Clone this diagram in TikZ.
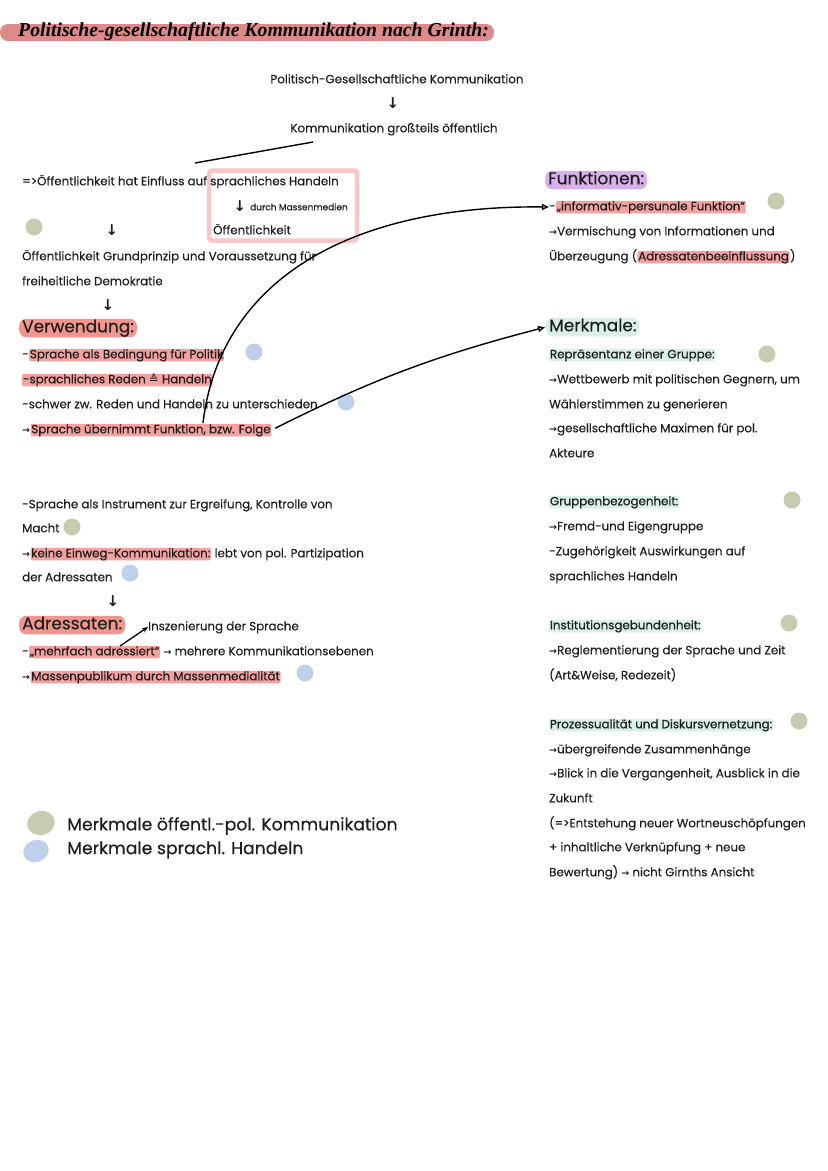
\documentclass[tikz,border=0pt]{standalone}
\usepackage{fontspec}
\setmainfont{Poppins}
\newfontfamily\symf{DejaVu Sans}
\newfontfamily\titlef{Liberation Serif}
\newfontfamily\bodyf[FakeBold=0.2]{Poppins}
\newfontfamily\semib[FakeBold=0.6]{Poppins}
\newfontfamily\headf[FakeBold=0.3]{Poppins}
\usetikzlibrary{arrows.meta}
\definecolor{ink}{HTML}{1E1E1E}
\definecolor{titlebar}{HTML}{DE8A8A}
\definecolor{headpink}{HTML}{F1958F}
\definecolor{hlpink}{HTML}{F4A2A0}
\definecolor{boxpink}{HTML}{F9C6C8}
\definecolor{headpurple}{HTML}{D9B1EA}
\definecolor{mint}{HTML}{D9F0E8}
\definecolor{dotgreen}{HTML}{C8CBB0}
\definecolor{dotblue}{HTML}{BFD0EA}
\newcommand\myra{{\symf\bfseries\fontsize{9.5}{11}\selectfont →}}
\newcommand\myda{{\symf\bfseries\fontsize{15}{16}\selectfont ↓}}
\tikzset{
  txt/.style={anchor=west, inner sep=0pt, text height=9.5bp, text depth=3bp,
    font=\bodyf\fontsize{11.9}{14}\selectfont, text=ink},
  hl/.style={txt, fill=hlpink, inner xsep=0.8bp, rounded corners=2bp, font=\semib\fontsize{11.9}{14}\selectfont},
  mh/.style={txt, fill=mint, inner xsep=0.8bp, rounded corners=2bp, font=\semib\fontsize{11.9}{14}\selectfont},
  small/.style={txt, font=\bodyf\fontsize{9}{11}\selectfont},
  head/.style={anchor=west, inner xsep=3bp, inner ysep=1.5bp, text height=12bp, text depth=3.5bp,
    rounded corners=7bp, font=\headf\fontsize{17}{20}\selectfont, text=ink},
  legend/.style={anchor=west, inner sep=0pt, font=\headf\fontsize{17.3}{20}\selectfont, text=ink},
  darr/.style={inner sep=0pt, text=ink},
  gdot/.style={circle, fill=dotgreen, minimum size=17bp, inner sep=0pt},
  bdot/.style={circle, fill=dotblue, minimum size=17bp, inner sep=0pt},
  conn/.style={draw=black, line width=1.4bp, -{Triangle[open, length=7bp, width=6bp]}},
}
\begin{document}
\begin{tikzpicture}[x=1bp, y=-1bp]
\useasboundingbox[fill=white] (0,0) rectangle (828,1171);

% title
\fill[titlebar, rounded corners=8bp] (0,24) rectangle (494,41);
\node[anchor=west, inner sep=0pt, text=black, font=\titlef\bfseries\itshape\fontsize{19.8}{22}\selectfont] (title) at (18,32) {Politische-gesellschaftliche Kommunikation nach Grinth:};

% top chain
\node[txt, anchor=center] (pgk) at (397,80) {Politisch-Gesellschaftliche Kommunikation};
\node[darr] (d1) at (393,103) {\myda};
\node[txt, anchor=center] (kgo) at (394,129) {Kommunikation großteils öffentlich};
\coordinate (k1) at (313,142);
\coordinate (k2) at (195,163);
\draw[line width=1.4bp] (k1) -- (k2);

% pink box
\node[draw=boxpink, line width=4.5bp, rounded corners=3bp, minimum width=148bp, minimum height=70bp] (box) at (283,205.5) {};
\node[txt] (oe1) at (22,182) {=>Öffentlichkeit hat Einfluss auf sprachliches Handeln};
\node[darr] (d2) at (240,206) {\myda};
\node[small] (mm) at (250,207) {durch Massenmedien};
\node[txt] (oe2) at (213,231) {Öffentlichkeit};

\node[gdot] (g1) at (34,227) {};
\node[darr] (d3) at (112,230) {\myda};
\node[txt] (gp1) at (22,257) {Öffentlichkeit Grundprinzip und Voraussetzung für};
\node[txt] (gp2) at (22,282) {freiheitliche Demokratie};
\node[darr] (d4) at (108,305) {\myda};

% Verwendung
\node[head, fill=headpink] (verw) at (19,328) {Verwendung:};
\node[txt] (v1a) at (22,355) {-};
\node[hl] (v1b) at (v1a.east) {Sprache als Bedingung für Politik};
\node[bdot] (b1) at (254,352) {};
\node[hl] (v2) at (22,380) {-sprachliches Reden {\symf ≙} Handeln};
\node[txt] (v3) at (22,405) {-schwer zw. Reden und Handeln zu unterschieden};
\node[bdot] (b2) at (346,402) {};
\node[txt] (v4a) at (22,430) {\myra};
\node[hl] (v4b) at (v4a.east) {Sprache übernimmt Funktion, bzw. Folge};

\node[txt] (s1) at (22,505) {-Sprache als Instrument zur Ergreifung, Kontrolle von};
\node[txt] (s2) at (22,529) {Macht};
\node[gdot] (g2) at (72,527) {};
\node[txt] (s3a) at (22,554) {\myra};
\node[hl] (s3b) at (s3a.east) {keine Einweg-Kommunikation:};
\node[txt] (s3c) at (s3b.east) {\ lebt von pol. Partizipation};
\node[txt] (s4) at (22,578) {der Adressaten};
\node[bdot] (b3) at (130,573) {};
\node[darr] (d5) at (113,601) {\myda};

% Adressaten
\node[head, fill=headpink] (adr) at (19,625) {Adressaten:};
\node[txt] (insz) at (148,627) {Inszenierung der Sprache};
\node[txt] (a1a) at (22,652) {-};
\node[hl] (a1b) at (a1a.east) {„mehrfach adressiert“};
\node[txt] (a1c) at (a1b.east) {\ \myra\ mehrere Kommunikationsebenen};
\node[txt] (a2a) at (22,677) {\myra};
\node[hl] (a2b) at (a2a.east) {Massenpublikum durch Massenmedialität};
\node[bdot] (b4) at (305,673) {};
\coordinate (ia) at (120,646);
\draw[line width=1.3bp, -{Stealth[length=6bp, width=5bp]}] (ia) -- (insz.west);

% legend
\fill[dotgreen, rotate around={15:(41,823)}] (41,823) ellipse [x radius=14bp, y radius=12bp];
\fill[dotblue, rotate around={20:(36,851)}] (36,851) ellipse [x radius=13bp, y radius=11bp];
\node[legend] (lg1) at (67,826) {Merkmale öffentl.-pol. Kommunikation};
\node[legend] (lg2) at (67,850) {Merkmale sprachl. Handeln};

% right column: Funktionen
\node[head, fill=headpurple] (funk) at (545,180) {Funktionen:};
\node[txt] (f1a) at (549,207) {-};
\node[hl] (f1b) at (f1a.east) {„informativ-persunale Funktion“};
\node[gdot] (g3) at (776,201) {};
\node[txt] (f2) at (549,232) {\myra Vermischung von Informationen und};
\node[txt] (f3a) at (549,257) {Überzeugung (};
\node[hl] (f3b) at (f3a.east) {Adressatenbeeinflussung};
\node[txt] (f3c) at (f3b.east) {)};

% Merkmale
\node[head, fill=mint] (merk) at (546,327) {Merkmale:};
\node[mh] (m1) at (549,355) {Repräsentanz einer Gruppe:};
\node[gdot] (g4) at (767,354) {};
\node[txt] (m2) at (549,380) {\myra Wettbewerb mit politischen Gegnern, um};
\node[txt] (m3) at (549,405) {Wählerstimmen zu generieren};
\node[txt] (m4) at (549,429) {\myra gesellschaftliche Maximen für pol.};
\node[txt] (m5) at (549,454) {Akteure};

\node[mh] (m6) at (549,502) {Gruppenbezogenheit:};
\node[gdot] (g5) at (792,500) {};
\node[txt] (m7) at (549,527) {\myra Fremd-und Eigengruppe};
\node[txt] (m8) at (549,552) {-Zugehörigkeit Auswirkungen auf};
\node[txt] (m9) at (549,577) {sprachliches Handeln};

\node[mh] (m10) at (549,626) {Institutionsgebundenheit:};
\node[gdot] (g6) at (789,623) {};
\node[txt] (m11) at (549,651) {\myra Reglementierung der Sprache und Zeit};
\node[txt] (m12) at (549,676) {(Art\&Weise, Redezeit)};

\node[mh] (m13) at (549,725) {Prozessualität und Diskursvernetzung:};
\node[gdot] (g7) at (799,721) {};
\node[txt] (m14) at (549,750) {\myra übergreifende Zusammenhänge};
\node[txt] (m15) at (549,774) {\myra Blick in die Vergangenheit, Ausblick in die};
\node[txt] (m16) at (549,799) {Zukunft};
\node[txt] (m17) at (549,824) {(=>Entstehung neuer Wortneuschöpfungen};
\node[txt] (m18) at (549,848) {+ inhaltliche Verknüpfung + neue};
\node[txt] (m19) at (549,873) {Bewertung) \myra\ nicht Girnths Ansicht};

% connectors
\coordinate (c1) at (203,423);
\draw[conn] (c1) .. controls (220,280) and (350,205) .. (f1a.west);
\draw[conn, shorten <=4bp, shorten >=1bp] (v4b.east) to[bend left=6] (merk.west);
\end{tikzpicture}
\end{document}
